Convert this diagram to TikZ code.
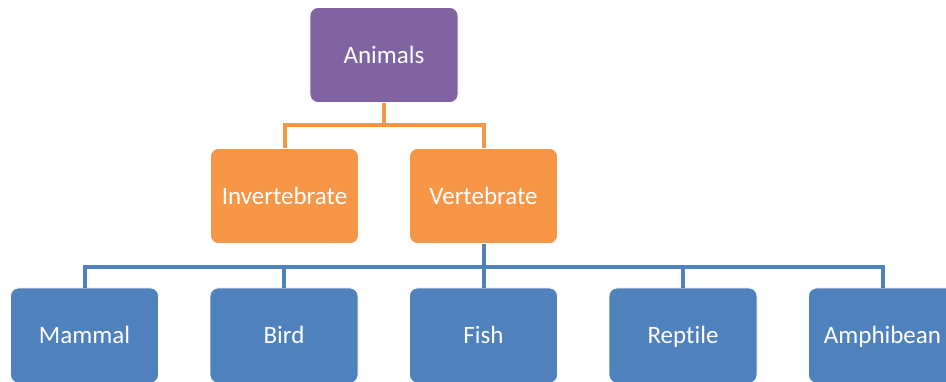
\documentclass[tikz,border=0pt]{standalone}
\usepackage{fontspec}
\setmainfont[Ligatures=NoCommon]{Carlito}
\definecolor{cpurple}{HTML}{8064A2}
\definecolor{corange}{HTML}{F79646}
\definecolor{cblue}{HTML}{4F81BD}
\begin{document}
\begin{tikzpicture}[x=1pt,y=-1pt,
  box/.style={rectangle, rounded corners=8pt, minimum width=148pt, minimum height=95pt,
    draw=white, line width=0.8pt, text=white, font=\fontsize{25}{29}\selectfont, inner sep=0pt,
    text height=20pt, text depth=3pt},
  pbox/.style={box, fill=cpurple},
  obox/.style={box, fill=corange},
  bbox/.style={box, fill=cblue},
  oline/.style={draw=corange, line width=4pt},
  bline/.style={draw=cblue, line width=4pt}]
\useasboundingbox (0,0) rectangle (946,382);
\clip (0,0) rectangle (946,382);
\coordinate (ob) at (0,125);
\coordinate (bb) at (0,267);
\node[pbox] (animals) at (384,55) {Animals};
\node[obox] (inv) at (284.5,196) {Invertebrate};
\node[obox] (vert) at (483.5,196) {Vertebrate};
\node[bbox] (mammal) at (84.5,335.5) {Mammal};
\node[bbox] (bird) at (284,335.5) {Bird};
\node[bbox] (fish) at (483.5,335.5) {Fish};
\node[bbox] (reptile) at (683,335.5) {Reptile};
\node[bbox] (amph) at (882.5,335.5) {Amphibean};
\draw[oline] (animals.south) -- (animals.south |- ob) -| (inv.north);
\draw[oline] (animals.south) -- (animals.south |- ob) -| (vert.north);
\foreach \t in {mammal,bird,fish,reptile,amph}
  \draw[bline] (vert.south) -- (vert.south |- bb) -| (\t.north);
\end{tikzpicture}
\end{document}
